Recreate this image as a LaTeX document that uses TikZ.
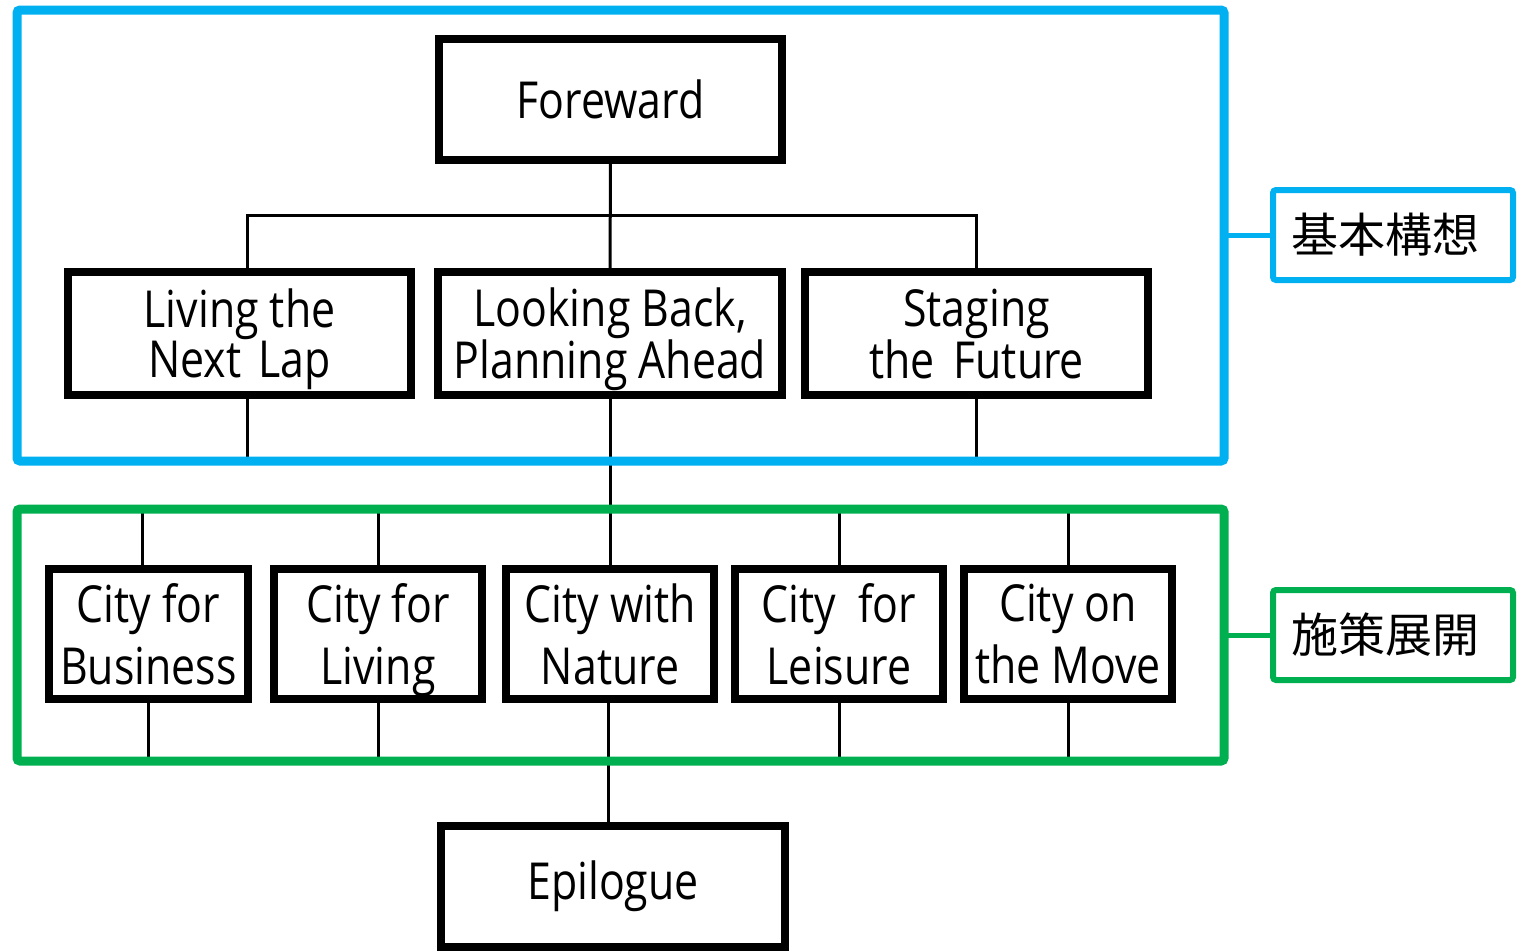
\documentclass[tikz,border=0pt]{standalone}
\usepackage{fontspec}
\setmainfont{Open Sans}[FakeStretch=0.84]
\newfontfamily\cjk{Noto Sans CJK JP}
\definecolor{frameblue}{HTML}{00B0F0}
\definecolor{framegreen}{HTML}{00B050}
\newcommand{\nodepth}[1]{\raisebox{0pt}[\height][0pt]{#1}}
\begin{document}
\begin{tikzpicture}[x=1pt,y=-1pt,
  box/.style={draw=black,line width=8pt,rectangle,inner sep=0pt,outer sep=0pt,align=center,fill=white},
  topbox/.style={box,minimum width=343pt,minimum height=123pt,font=\fontsize{51}{50}\selectfont},
  citybox/.style={box,minimum width=208pt,minimum height=130pt,font=\fontsize{51}{62}\selectfont},
  link/.style={draw=black,line width=3pt},
  frame/.style={rectangle,inner sep=0pt,outer sep=0pt,minimum width=1207pt},
  framedraw/.style={draw=#1,line width=9pt,rounded corners=3pt},
  tag/.style={draw=#1,line width=6pt,rectangle,rounded corners=3pt,inner sep=0pt,outer sep=0pt,fill=white,minimum width=240pt,minimum height=90pt,font=\cjk\fontsize{47}{47}\selectfont},
  taglink/.style={draw=#1,line width=5pt}]
\useasboundingbox (0,0) rectangle (1518,951);
\coordinate (fwbar) at (610,215);
\node[topbox,minimum height=121pt] (fw) at (610.5,99.5) {Foreward};
\node[topbox] (living) at (239.5,333.5) {Living the\\\nodepth{Next\hspace{17pt}Lap}};
\node[topbox,minimum width=344pt] (looking) at (610,333.5) {Looking Back,\\\nodepth{Planning Ahead}};
\node[topbox] (staging) at (976.5,333.5) {Staging\\\nodepth{the\hspace{19pt}Future}};
\node[citybox,minimum width=199pt] (business) at (148.5,634) {City for\\\nodepth{Business}};
\node[citybox] (cliving) at (378,634) {City for\\\nodepth{Living}};
\node[citybox] (nature) at (610,634) {City with\\\nodepth{Nature}};
\node[citybox] (leisure) at (839,634) {City\ \ for\\\nodepth{Leisure}};
\node[citybox] (move) at (1068,634) {City on\\\nodepth{the Move}};
\node[topbox,minimum width=344pt,minimum height=121pt] (epi) at (613,886.5) {Epilogue};
\node[frame,minimum height=451pt] (blue) at (620.5,235.5) {};
\node[frame,minimum height=252pt] (green) at (620.5,635) {};
\node[tag=frameblue] (bluetag) at (1393,235) {基本構想\hspace*{16pt}};
\node[tag=framegreen] (greentag) at (1393,635) {施策展開\hspace*{16pt}};
% tree links
\draw[link] (fw.south) -- (looking.north);
\draw[link] ([xshift=8pt]living.north) -- ([xshift=8pt]living.north |- fwbar) -- (staging.north |- fwbar) -- (staging.north);
\draw[link] ([xshift=8pt]living.south) -- ([xshift=8pt]living.south |- blue.south);
\draw[link] (staging.south) -- (staging.south |- blue.south);
\draw[link] (looking.south) -- (nature.north);
\draw[link] ([xshift=-6pt]business.north) -- ([xshift=-6pt]business.north |- green.north);
\draw[link] (cliving.north) -- (cliving.north |- green.north);
\draw[link] (leisure.north) -- (leisure.north |- green.north);
\draw[link] (move.north) -- (move.north |- green.north);
\draw[link] (business.south) -- (business.south |- green.south);
\draw[link] (cliving.south) -- (cliving.south |- green.south);
\draw[link] ([xshift=-2pt]nature.south) -- ([xshift=-2pt]nature.south |- epi.north);
\draw[link] (leisure.south) -- (leisure.south |- green.south);
\draw[link] (move.south) -- (move.south |- green.south);
% frames
\draw[framedraw=frameblue] (blue.north west) rectangle (blue.south east);
\draw[framedraw=framegreen] (green.north west) rectangle (green.south east);
\draw[taglink=frameblue] (blue.east |- bluetag.west) -- (bluetag.west);
\draw[taglink=framegreen] (green.east |- greentag.west) -- (greentag.west);
\end{tikzpicture}
\end{document}
